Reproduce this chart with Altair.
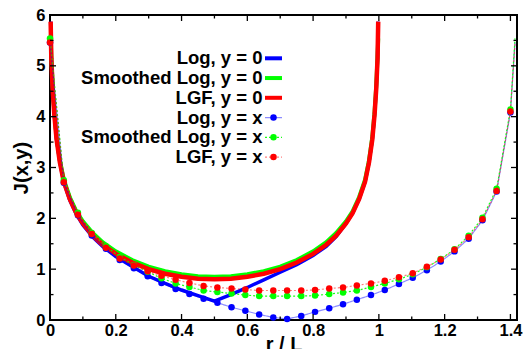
import altair as alt
import pandas as pd

# ---------------- data ----------------
# y = 0 curves (continuous)
r_y0 = [0.002, 0.004, 0.008, 0.013, 0.02, 0.03, 0.042, 0.06, 0.08, 0.1, 0.13, 0.16,
        0.2, 0.25, 0.3, 0.35, 0.4, 0.45, 0.5, 0.55, 0.6, 0.65, 0.7, 0.75, 0.8,
        0.84, 0.87, 0.9, 0.92, 0.94, 0.958, 0.97, 0.98, 0.987, 0.992, 0.996, 0.998]
log_y0 = [5.87, 5.15, 4.55, 4.05, 3.55, 3.10, 2.71, 2.36, 2.08, 1.87, 1.63, 1.45,
          1.25, 1.05, 0.86, 0.72, 0.59, 0.48, 0.37, 0.50, 0.64, 0.79, 0.94, 1.09, 1.27,
          1.45, 1.64, 1.90, 2.10, 2.38, 2.72, 3.10, 3.55, 4.05, 4.55, 5.15, 5.87]
smooth_y0 = [5.54, 5.20, 4.60, 4.10, 3.60, 3.14, 2.76, 2.42, 2.14, 1.94, 1.71, 1.53,
             1.35, 1.18, 1.05, 0.96, 0.90, 0.86, 0.85, 0.86, 0.90, 0.96, 1.05, 1.18, 1.35,
             1.53, 1.71, 1.94, 2.14, 2.42, 2.76, 3.14, 3.60, 4.10, 4.60, 5.20, 5.54]
lgf_y0 = [5.87, 5.15, 4.55, 4.05, 3.55, 3.10, 2.72, 2.38, 2.10, 1.90, 1.66, 1.48,
          1.30, 1.13, 1.00, 0.91, 0.85, 0.81, 0.80, 0.81, 0.85, 0.91, 1.00, 1.13, 1.30,
          1.48, 1.66, 1.90, 2.10, 2.38, 2.72, 3.10, 3.55, 4.05, 4.55, 5.15, 5.87]

# y = x samples (markers)
r_yx = [0.000, 0.042, 0.085, 0.127, 0.170, 0.212, 0.255, 0.297, 0.339, 0.382, 0.424,
        0.467, 0.509, 0.552, 0.594, 0.636, 0.679, 0.721, 0.764, 0.806, 0.849, 0.891,
        0.933, 0.976, 1.018, 1.061, 1.103, 1.146, 1.188, 1.230, 1.273, 1.315, 1.358, 1.400]
log_yx = [5.46, 2.70, 2.06, 1.66, 1.40, 1.18, 1.02, 0.86, 0.73, 0.61, 0.51,
          0.42, 0.34, 0.25, 0.18, 0.11, 0.05, 0.02, 0.08, 0.16, 0.23, 0.31,
          0.40, 0.49, 0.59, 0.71, 0.83, 0.98, 1.15, 1.35, 1.60, 1.96, 2.53, 4.08]
smooth_yx = [5.54, 2.75, 2.11, 1.71, 1.45, 1.24, 1.08, 0.95, 0.82, 0.72, 0.65,
             0.58, 0.55, 0.52, 0.49, 0.47, 0.47, 0.47, 0.47, 0.48, 0.51, 0.54,
             0.58, 0.65, 0.72, 0.80, 0.90, 1.04, 1.20, 1.39, 1.66, 2.01, 2.58, 4.14]
lgf_yx = [5.46, 2.71, 2.07, 1.69, 1.42, 1.21, 1.07, 0.96, 0.87, 0.79, 0.73,
          0.67, 0.64, 0.62, 0.60, 0.58, 0.58, 0.58, 0.58, 0.59, 0.62, 0.64,
          0.68, 0.72, 0.77, 0.84, 0.92, 1.05, 1.19, 1.38, 1.63, 1.98, 2.54, 4.10]
# periodic end point of the y = x lines (corner r = sqrt 2)
r_yx_end = 1.414
log_yx_end = 5.46
smooth_yx_end = 5.54
lgf_yx_end = 5.46

legend_labels = ["Log, y = 0", "Smoothed Log, y = 0", "LGF, y = 0",
                 "Log, y = x", "Smoothed Log, y = x", "LGF, y = x"]

x_major = [0, 0.2, 0.4, 0.6, 0.8, 1.0, 1.2, 1.4]
x_minor = [0.1, 0.3, 0.5, 0.7, 0.9, 1.1, 1.3]
y_major = [0, 1, 2, 3, 4, 5, 6]
y_minor = [0.5, 1.5, 2.5, 3.5, 4.5, 5.5]

# ---------------- style ----------------
FONT = "Liberation Sans"
W, H = 467, 305
BLUE, GREEN, RED = "#0000ff", "#00ff00", "#ff0000"

xs = alt.Scale(domain=[0, 1.42], nice=False, zero=False)
ys = alt.Scale(domain=[0, 6], nice=False)

x_axis = alt.Axis(
    values=x_major, format="~g", ticks=False, domain=False, grid=False,
    labelFont=FONT, labelFontSize=16.5, labelFontWeight="bold", labelColor="black",
    labelPadding=2, labelFlush=False, labelOverlap=False,
    titleFont=FONT, titleFontSize=20, titleFontWeight="bold", titleColor="black",
    titleBaseline="alphabetic", titleY=30.5)
y_axis = alt.Axis(
    values=y_major, format="~g", ticks=False, domain=False, grid=False,
    labelFont=FONT, labelFontSize=16.5, labelFontWeight="bold", labelColor="black",
    labelPadding=5, labelFlush=False, labelOverlap=False,
    titleFont=FONT, titleFontSize=20, titleFontWeight="bold", titleColor="black",
    titleAngle=270, titleAlign="center", titleBaseline="alphabetic",
    titleX=-22.5, titleY=H / 2)

def X(field):
    return alt.X(f"{field}:Q", scale=xs, axis=x_axis, title="r / L")

def Y(field):
    return alt.Y(f"{field}:Q", scale=ys, axis=y_axis, title="J(x,y)")

layers = []

# y = 0 thick lines
for vals, color, sw in [(log_y0, BLUE, 3.5), (smooth_y0, GREEN, 4), (lgf_y0, RED, 4.5)]:
    df = pd.DataFrame({"r": r_y0, "J": vals})
    layers.append(alt.Chart(df).mark_line(color=color, strokeWidth=sw, strokeCap="butt")
                  .encode(x=X("r"), y=Y("J")))

# y = x thin lines + markers
for vals, endv, color, dash, op in [
        (log_yx, log_yx_end, BLUE, [1, 0], 0.45),
        (smooth_yx, smooth_yx_end, GREEN, [2, 2], 0.9),
        (lgf_yx, lgf_yx_end, RED, [2, 2], 0.5)]:
    dfl = pd.DataFrame({"r": r_yx + [r_yx_end], "J": vals + [endv]})
    dfp = pd.DataFrame({"r": r_yx, "J": vals})
    layers.append(alt.Chart(dfl).mark_line(color=color, strokeWidth=1.2, strokeDash=dash,
                                           opacity=op).encode(x=X("r"), y=Y("J")))
    layers.append(alt.Chart(dfp).mark_point(filled=True, color=color, size=42, opacity=1,
                                            shape="circle").encode(x=X("r"), y=Y("J")))

# inward ticks on all four sides
def xticks(vals, length):
    df = pd.DataFrame({"t": vals})
    bottom = alt.Chart(df).mark_rule(color="black", strokeWidth=1.3).encode(
        x=X("t"), y=alt.value(H), y2=alt.value(H - length))
    top = alt.Chart(df).mark_rule(color="black", strokeWidth=1.3).encode(
        x=X("t"), y=alt.value(0), y2=alt.value(length))
    return [bottom, top]

def yticks(vals, length):
    df = pd.DataFrame({"t": vals})
    left = alt.Chart(df).mark_rule(color="black", strokeWidth=1.3).encode(
        y=Y("t"), x=alt.value(0), x2=alt.value(length))
    right = alt.Chart(df).mark_rule(color="black", strokeWidth=1.3).encode(
        y=Y("t"), x=alt.value(W), x2=alt.value(W - length))
    return [left, right]

layers += xticks(x_major, 6) + xticks(x_minor, 3.5) + yticks(y_major, 6) + yticks(y_minor, 3.5)

# legend (key box, top left)
one = pd.DataFrame({"a": [0]})
leg_colors = [BLUE, GREEN, RED, BLUE, GREEN, RED]
for i, (lab, col) in enumerate(zip(legend_labels, leg_colors)):
    ytxt = 49.3 + 19.75 * i
    ysym = 43.3 + 19.75 * i
    layers.append(alt.Chart(pd.DataFrame({"t": [lab]})).mark_text(
        align="right", baseline="alphabetic", font=FONT, fontSize=18.5,
        fontWeight="bold", color="black").encode(
        x=alt.value(212.5), y=alt.value(ytxt), text="t:N"))
    if i < 3:
        layers.append(alt.Chart(one).mark_rule(color=col, strokeWidth=4).encode(
            x=alt.value(215), x2=alt.value(232), y=alt.value(ysym)))
    else:
        dash = [1, 0] if i == 3 else [2, 2]
        op = 0.45 if i == 3 else (0.9 if i == 4 else 0.5)
        layers.append(alt.Chart(one).mark_rule(color=col, strokeWidth=1.2,
                                               strokeDash=dash, opacity=op).encode(
            x=alt.value(215), x2=alt.value(232), y=alt.value(ysym)))
        layers.append(alt.Chart(one).mark_point(filled=True, color=col, size=42,
                                                opacity=1).encode(
            x=alt.value(223.5), y=alt.value(ysym)))

chart = alt.layer(*layers).properties(
    width=W, height=H,
    autosize=alt.AutoSizeParams(type="none"),
    padding={"left": 50, "top": 15, "right": 11, "bottom": 29},
).configure_view(
    stroke="black", strokeWidth=2
)

chart.save("out.html", embed_options={"renderer": "svg", "actions": False})
